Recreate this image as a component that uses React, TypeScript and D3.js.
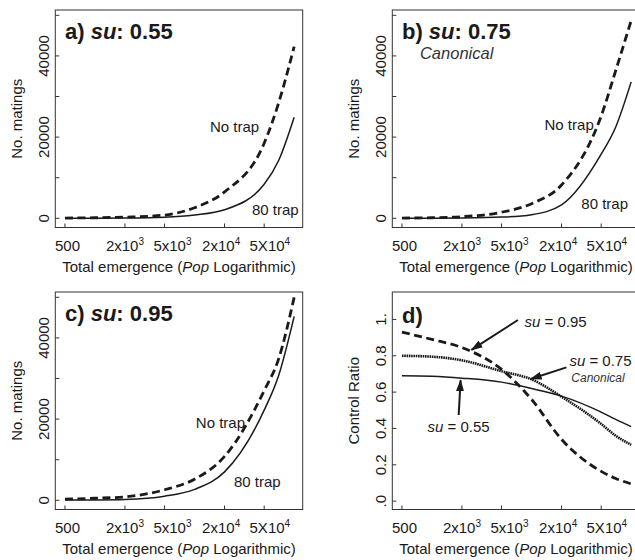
import React from 'react';
import * as d3 from 'd3';

// total emergence (Pop) at which the curves were read
const pop = [500, 1000, 2000, 5000, 10000, 20000, 50000, 70000, 100000];

// No. matings, panel a (su 0.55)
const noTrapA = [60, 130, 290, 800, 2600, 6500, 18500, 28500, 42300];
const trap80A = [10, 25, 60, 250, 800, 2100, 8400, 14300, 24900];
// panel b (su 0.75, canonical)
const noTrapB = [60, 140, 400, 1500, 3600, 8200, 25200, 36400, 48700];
const trap80B = [10, 25, 70, 300, 900, 3300, 15800, 22500, 33600];
// panel c (su 0.95)
const noTrapC = [300, 500, 850, 2600, 5200, 10800, 27000, 34900, 50000];
const trap80C = [60, 90, 200, 1000, 2700, 7000, 22200, 30800, 45300];

// control ratio, panel d
const ratio95 = [0.93, 0.89, 0.845, 0.725, 0.56, 0.34, 0.164, 0.125, 0.095];
const ratio75 = [0.8, 0.795, 0.775, 0.715, 0.67, 0.575, 0.425, 0.36, 0.31];
const ratio55 = [0.69, 0.687, 0.677, 0.655, 0.62, 0.578, 0.49, 0.45, 0.41];

const xTicks = [500, 2000, 5000, 20000, 50000];
// the labels sit evenly spaced, not exactly under their ticks
const xLabelAt = [530, 2000, 6000, 18500, 57000];
const xTickLabels = [['500', ''], ['2x10', '3'], ['5x10', '3'], ['2x10', '4'], ['5X10', '4']];
const matingTicks = [0, 10000, 20000, 30000, 40000, 50000];
const matingLabels = ['0', '', '20000', '', '40000', ''];
const ratioTicks = [0, 0.2, 0.4, 0.6, 0.8, 1];
const ratioLabels = ['.0', '0.2', '0.4', '0.6', '0.8', '1.'];

// annotations in data units: [pop, value]
const trapLabelsA = [[14300, 21300], [37700, 800]];
const trapLabelsB = [[13500, 21700], [31600, 2400]];
const trapLabelsC = [[10300, 17800], [24900, 3200]];
const ratioArrows = [
  [[7300, 0.997], [2490, 0.832]],
  [[22400, 0.736], [9800, 0.672]],
  [[1855, 0.474], [1940, 0.666]],
];

const font = 'Liberation Sans, Arial, Helvetica, sans-serif';
const ink = '#1a1a1a';
const colLeft = [55.3, 392.3];
const rowTop = [10, 292];
const boxW = 247.4;
const boxH = 217.5;

const makeX = (left: number) => d3.scaleLog().domain([400, 121800]).range([left, left + boxW]);
const makeYM = (top: number) => d3.scaleLinear().domain([-2266, 51305]).range([top + boxH, top]);
const makeYR = (top: number) => d3.scaleLinear().domain([-0.046, 1.151]).range([top + boxH, top]);

function curve(x: any, y: any, vals: number[]) {
  const line = d3.line<number>()
    .x((d, i) => x(pop[i]))
    .y(d => y(d))
    .curve(d3.curveMonotoneX);
  return line(vals) || '';
}

function Frame({ x, y, yTicks, yLabels, yTitle }: any) {
  const [x0, x1] = x.range();
  const [yb, yt] = y.range();
  return (
    <g fontFamily={font} fill={ink}>
      <rect x={x0} y={yt} width={x1 - x0} height={yb - yt} fill="none" stroke="#333" strokeWidth={1} />
      {xTicks.map((t, i) => (
        <g key={'x' + i}>
          <line x1={x(t)} x2={x(t)} y1={yb} y2={yb - 4} stroke="#333" />
          <text x={x(xLabelAt[i])} y={yb + 23} textAnchor="middle" fontSize={15}>
            <tspan>{xTickLabels[i][0]}</tspan>
            {xTickLabels[i][1] && <tspan dy={-6} fontSize={10}>{xTickLabels[i][1]}</tspan>}
          </text>
        </g>
      ))}
      {yTicks.map((t: number, i: number) => (
        <g key={'y' + i}>
          <line x1={x0} x2={x0 + 4} y1={y(t)} y2={y(t)} stroke="#333" />
          {yLabels[i] && (
            <text transform={`translate(${x0 - 6.5},${y(t)}) rotate(-90)`} textAnchor="middle" fontSize={15}>
              {yLabels[i]}
            </text>
          )}
        </g>
      ))}
      <text x={(x0 + x1) / 2} y={yb + 44} textAnchor="middle" fontSize={15}>
        Total emergence (<tspan fontStyle="italic">Pop</tspan> Logarithmic)
      </text>
      <text transform={`translate(${x0 - 33},${(yb + yt) / 2}) rotate(-90)`} textAnchor="middle" fontSize={15}>
        {yTitle}
      </text>
    </g>
  );
}

function MatingPanel({ col, row, tag, su, noTrap, trap, labels, canonical }: any) {
  const x = makeX(colLeft[col]);
  const y = makeYM(rowTop[row]);
  return (
    <g>
      <Frame x={x} y={y} yTicks={matingTicks} yLabels={matingLabels} yTitle="No. matings" />
      <path d={curve(x, y, noTrap)} fill="none" stroke={ink} strokeWidth={2.8} strokeDasharray="8,4.5" />
      <path d={curve(x, y, trap)} fill="none" stroke={ink} strokeWidth={1.5} />
      <text x={x(500)} y={rowTop[row] + 28.5} fontFamily={font} fontSize={22} fontWeight="bold" fill={ink}>
        {tag}) <tspan fontStyle="italic">su</tspan>: {su}
      </text>
      {canonical && (
        <text x={x(500) + 18} y={rowTop[row] + 49} fontFamily={font} fontSize={16.5} fontStyle="italic" fill="#333">
          Canonical
        </text>
      )}
      <text x={x(labels[0][0])} y={y(labels[0][1])} fontFamily={font} fontSize={15} fill={ink}>No trap</text>
      <text x={x(labels[1][0])} y={y(labels[1][1])} fontFamily={font} fontSize={15} fill={ink}>80 trap</text>
    </g>
  );
}

function RatioPanel() {
  const x = makeX(colLeft[1]);
  const y = makeYR(rowTop[1]);
  const arrow = (a: any, i: number) => (
    <line key={i} x1={x(a[0][0])} y1={y(a[0][1])} x2={x(a[1][0])} y2={y(a[1][1])}
      stroke={ink} strokeWidth={2} markerEnd="url(#arrowHead)" />
  );
  return (
    <g>
      <Frame x={x} y={y} yTicks={ratioTicks} yLabels={ratioLabels} yTitle="Control Ratio" />
      <path d={curve(x, y, ratio95)} fill="none" stroke={ink} strokeWidth={2.8} strokeDasharray="8,4.5" />
      <path d={curve(x, y, ratio75)} fill="none" stroke={ink} strokeWidth={2.6} strokeDasharray="1.6,0.7" />
      <path d={curve(x, y, ratio55)} fill="none" stroke={ink} strokeWidth={1.5} />
      {ratioArrows.map(arrow)}
      <text x={x(500)} y={rowTop[1] + 31} fontFamily={font} fontSize={22} fontWeight="bold" fill={ink}>d)</text>
      <g fontFamily={font} fontSize={15} fill={ink}>
        <text x={x(8500)} y={y(0.958)}><tspan fontStyle="italic">su</tspan> = 0.95</text>
        <text x={x(24000)} y={y(0.744)}><tspan fontStyle="italic">su</tspan> = 0.75</text>
        <text x={x(46500)} y={y(0.656)} fontSize={12} fontStyle="italic" textAnchor="middle" fill="#333">Canonical</text>
        <text x={x(904)} y={y(0.383)}><tspan fontStyle="italic">su</tspan> = 0.55</text>
      </g>
    </g>
  );
}

export default function App() {
  return (
    <svg width={635} height={560} style={{ position: 'absolute', left: 0, top: 0, background: '#fff' }}>
      <defs>
        <marker id="arrowHead" viewBox="0 0 12 8" refX={11} refY={4} markerWidth={12} markerHeight={8}
          markerUnits="userSpaceOnUse" orient="auto">
          <path d="M0,0 L12,4 L0,8 z" fill={ink} />
        </marker>
      </defs>
      <rect width={635} height={560} fill="#fff" />
      <MatingPanel col={0} row={0} tag="a" su="0.55" noTrap={noTrapA} trap={trap80A} labels={trapLabelsA} />
      <MatingPanel col={1} row={0} tag="b" su="0.75" noTrap={noTrapB} trap={trap80B} labels={trapLabelsB} canonical />
      <MatingPanel col={0} row={1} tag="c" su="0.95" noTrap={noTrapC} trap={trap80C} labels={trapLabelsC} />
      <RatioPanel />
    </svg>
  );
}
